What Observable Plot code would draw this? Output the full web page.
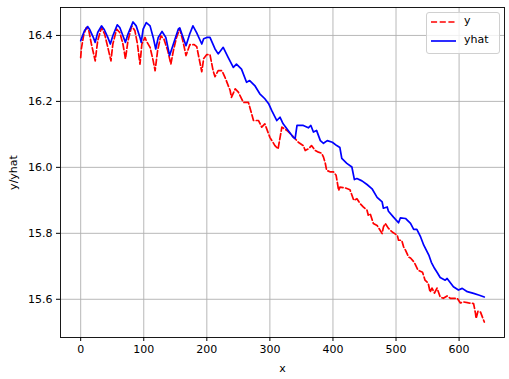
<!DOCTYPE html>
<html><head><meta charset="utf-8">
<script src="https://cdn.jsdelivr.net/npm/d3@7"></script>
<script src="https://cdn.jsdelivr.net/npm/@observablehq/plot@0.6"></script>
<style>
body{margin:0;background:#fff;}
#wrap{position:relative;width:509px;height:379px;font-family:"DejaVu Sans",sans-serif;}
#legend{position:absolute;left:426px;top:12px;width:72px;height:40px;border:1px solid #d0d0d0;border-radius:3px;background:rgba(255,255,255,0.8);font-size:11px;color:#000;}
.row{position:absolute;left:3px;height:14px;}
.row svg{position:absolute;left:0;top:0;}
.row span{position:absolute;left:34px;top:-1px;white-space:nowrap;}
</style></head><body><div id="wrap"></div>
<script>
const yX = [0,1,5,9,13,17,23,27,33,38,43,48,51,57,62,67,71,75,81,86,90,94,97,102,104,110,115,118,122,127,132,138,143,147,152,157,162,167,173,180,184,192,195,200,205,210,213,218,224,229,237,239,245,250,258,266,274,282,287,292,300,308,313,319,327,335,340,345,353,356,361,366,372,377,382,385,388,390,396,401,405,409,411,419,427,433,438,443,448,454,456,459,464,470,478,480,483,488,494,502,504,509,512,515,520,523,529,535,542,546,551,554,557,561,565,570,575,581,586,597,602,607,615,623,626,627,630,634,640];
const yVals = [16.333,16.359,16.404,16.424,16.414,16.374,16.323,16.384,16.424,16.404,16.364,16.323,16.374,16.419,16.409,16.374,16.329,16.384,16.429,16.414,16.374,16.313,16.374,16.394,16.384,16.364,16.323,16.293,16.354,16.399,16.389,16.354,16.313,16.354,16.394,16.420,16.384,16.339,16.372,16.372,16.366,16.290,16.330,16.342,16.342,16.293,16.275,16.293,16.293,16.272,16.233,16.212,16.238,16.228,16.197,16.197,16.142,16.142,16.122,16.132,16.091,16.066,16.056,16.122,16.112,16.097,16.087,16.076,16.066,16.051,16.056,16.066,16.051,16.046,16.043,16.031,16.011,15.991,15.986,15.986,15.976,15.930,15.940,15.938,15.932,15.900,15.905,15.890,15.880,15.870,15.855,15.860,15.830,15.824,15.799,15.819,15.830,15.815,15.804,15.794,15.779,15.779,15.759,15.749,15.728,15.725,15.712,15.688,15.682,15.658,15.649,15.622,15.634,15.619,15.634,15.607,15.603,15.610,15.603,15.603,15.589,15.592,15.589,15.587,15.557,15.542,15.564,15.561,15.531];
const yhatX = [0,2,6,11,14,20,23,27,33,37,43,47,51,58,62,67,71,75,83,88,94,96,99,104,110,115,119,123,129,135,141,147,155,157,162,167,173,178,184,192,195,200,205,213,218,226,234,242,247,255,263,268,276,284,292,298,303,311,316,321,329,337,340,343,353,361,365,369,374,380,385,391,399,406,411,414,422,430,434,438,446,454,462,470,478,480,486,488,496,504,507,515,523,528,533,539,544,552,556,561,566,570,578,581,591,599,605,613,623,631,640];
const yhatVals = [16.384,16.394,16.414,16.427,16.419,16.394,16.379,16.409,16.429,16.419,16.394,16.374,16.399,16.432,16.424,16.399,16.379,16.404,16.441,16.429,16.394,16.379,16.419,16.439,16.429,16.394,16.359,16.394,16.412,16.394,16.339,16.374,16.420,16.423,16.396,16.369,16.405,16.429,16.408,16.374,16.390,16.394,16.394,16.359,16.344,16.364,16.333,16.303,16.313,16.298,16.258,16.263,16.248,16.223,16.208,16.193,16.172,16.142,16.152,16.132,16.112,16.091,16.087,16.127,16.127,16.120,16.127,16.107,16.112,16.081,16.073,16.081,16.076,16.066,16.060,16.027,16.012,16.001,15.963,15.966,15.959,15.948,15.935,15.909,15.895,15.876,15.880,15.867,15.849,15.832,15.847,15.845,15.830,15.812,15.812,15.789,15.764,15.734,15.712,15.694,15.679,15.666,15.658,15.663,15.638,15.628,15.633,15.623,15.618,15.613,15.607];
const xTicks = [0,100,200,300,400,500,600];
const yTicks = [15.6,15.8,16.0,16.2,16.4];
const seriesNames = ["y","yhat"];
const seriesColors = ["red","blue"];
const seriesDash = ["6.1,2.6", null];

const yData = yX.map((x,i)=>({x, v:yVals[i]}));
const yhatData = yhatX.map((x,i)=>({x, v:yhatVals[i]}));

const chart = Plot.plot({
  width:509, height:379,
  marginLeft:60, marginRight:5, marginTop:7, marginBottom:42,
  x:{domain:[-32,672]},
  y:{domain:[15.4841,16.4847]},
  style:{fontFamily:"DejaVu Sans, sans-serif", fontSize:"11px", color:"#000", background:"#fff"},
  marks:[
    Plot.gridX(xTicks,{stroke:"#b0b0b0", strokeOpacity:1, strokeWidth:0.9}),
    Plot.gridY(yTicks,{stroke:"#b0b0b0", strokeOpacity:1, strokeWidth:0.9}),
    Plot.line(yData,{x:"x", y:"v", stroke:seriesColors[0], strokeWidth:1.7, strokeDasharray:seriesDash[0], strokeLinejoin:"round"}),
    Plot.line(yhatData,{x:"x", y:"v", stroke:seriesColors[1], strokeWidth:1.7, strokeLinejoin:"round"}),
    Plot.frame({stroke:"#000", strokeWidth:0.9}),
    Plot.axisX(xTicks,{tickSize:4, tickPadding:4, tickFormat:d=>String(d), label:"x", labelAnchor:"center", labelArrow:"none", labelOffset:34, fontSize:11}),
    Plot.axisY(yTicks,{tickSize:4, tickPadding:4, tickFormat:d=>d.toFixed(1), label:"y/yhat", labelAnchor:"center", labelArrow:"none", labelOffset:51, fontSize:11})
  ]
});
const wrap = document.getElementById("wrap");
wrap.appendChild(chart);

const legend = document.createElement("div");
legend.id = "legend";
seriesNames.forEach((name,i)=>{
  const row = document.createElement("div");
  row.className = "row";
  row.style.top = (2 + i*19) + "px";
  const dash = seriesDash[i] ? ` stroke-dasharray="${seriesDash[i]}"` : "";
  row.innerHTML = `<svg width="28" height="14"><line x1="1" x2="26" y1="7" y2="7" stroke="${seriesColors[i]}" stroke-width="1.65"${dash}/></svg><span>${name}</span>`;
  legend.appendChild(row);
});
wrap.appendChild(legend);
</script>
</body></html>
